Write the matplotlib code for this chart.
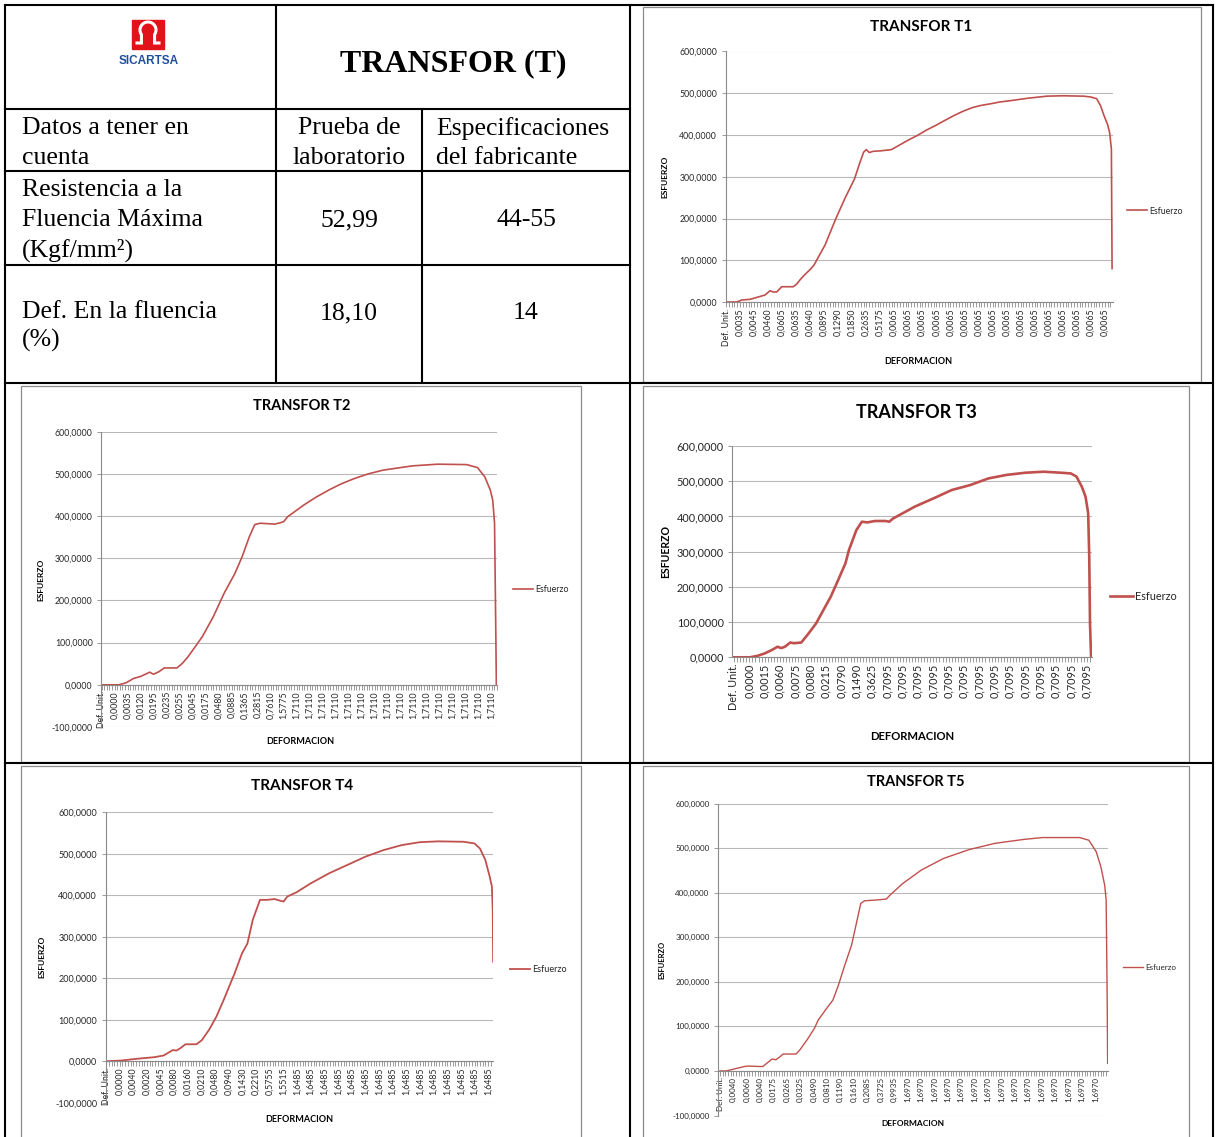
import numpy as np
import matplotlib
matplotlib.use("Agg")
import matplotlib.pyplot as plt
from matplotlib.patches import Rectangle
from matplotlib.ticker import MultipleLocator, FixedLocator, FixedFormatter, FuncFormatter

W, H = 1216, 1137
RED = "#C0504D"
GRID = "#b8b8b8"
AXIS = "#8a8a8a"
TXT = "#262626"
SERIF = ["Liberation Serif", "DejaVu Serif"]
plt.rcParams["font.family"] = ["Lato", "DejaVu Sans"]

# ---- table ----
header = "TRANSFOR (T)"
logo_text = "SICARTSA"
row_names = [["Datos a tener en", "cuenta"],
             ["Resistencia a la", "Fluencia Máxima", "(Kgf/mm²)"],
             ["Def. En la fluencia", "(%)"]]
col_heads = [["Prueba de", "laboratorio"], ["Especificaciones", "del fabricante"]]
lab_values = ["52,99", "18,10"]
spec_values = ["44-55", "14"]

# ---- curves (x = position along the category axis, in label slots) ----
t1_labels = (["Def. Unit.", "0,0035", "0,0045", "0,0460", "0,0605", "0,0635", "0,0640",
              "0,0895", "0,1290", "0,1850", "0,2635", "0,5175"] + ["0,0065"] * 16)
t1_x = [0, 0.76, 1.12, 1.71, 2.19, 2.78, 3.13, 3.37, 3.61, 3.97, 4.80, 5.04, 5.27, 5.6, 6.0,
        6.26, 7.05, 7.83, 8.5, 9.16, 9.5, 9.81, 10.0, 10.21, 10.5, 11.0, 11.79, 12.32, 13.0,
        13.64, 14.3, 14.95, 15.6, 16.27, 16.9, 17.59, 18.2, 18.9, 19.5, 20.23, 21.5, 22.86,
        24.0, 25.5, 26.0, 26.42, 26.7, 26.94, 27.2, 27.34, 27.47, 27.52]
t1_y = [0, 0, 4.8, 6.4, 11, 16.7, 27, 24, 24, 36.6, 36.6, 43, 53, 65, 78,
        88, 136, 200, 250, 295, 330, 359, 365, 358, 361, 362, 365, 375, 388,
        399, 412, 423, 435, 447, 457, 466, 471, 475, 479, 482, 488, 493,
        494, 493, 491, 487, 470, 447, 425, 407, 367, 80]

t2_labels = (["Def. Unit.", "0,0000", "0,0035", "0,0120", "0,0195", "0,0235", "0,0255",
              "0,0045", "0,0175", "0,0480", "0,0885", "0,1365", "0,2815", "0,7610",
              "1,5775"] + ["1,7110"] * 16)
t2_x = [0, 1.34, 1.89, 2.45, 3.01, 3.57, 3.70, 3.98, 4.40, 4.82, 5.79, 6.21, 6.63, 7.19,
        7.74, 8.58, 9.42, 10.25, 10.81, 11.36, 11.78, 12.2, 13.31, 13.73, 14.01, 14.29,
        15.54, 16.5, 17.49, 18.4, 19.44, 20.5, 21.67, 23.9, 25.85, 28.08, 28.91, 29.47,
        29.89, 30.08, 30.22, 30.31, 30.36]
t2_y = [0, 0, 5, 15, 20, 28, 30, 25, 31, 40, 40, 51, 66, 90,
        114, 161, 217, 264, 304, 351, 380, 383, 381, 384, 387, 398,
        426, 445, 462, 476, 489, 500, 509, 519, 523, 522, 515, 493,
        462, 438, 383, 145, 0]

t3_labels = (["Def. Unit.", "0,0000", "0,0015", "0,0060", "0,0075", "0,0080", "0,0215",
              "0,0790", "0,1490", "0,3625"] + ["0,7095"] * 14)
t3_x = [0, 1.04, 1.52, 2.0, 2.48, 2.84, 3.08, 3.32, 3.67, 3.91, 4.39, 4.87, 5.35, 5.83,
        6.31, 6.79, 7.27, 7.5, 7.74, 7.98, 8.34, 8.7, 9.18, 9.9, 10.13, 10.37, 11.8, 13.0,
        14.2, 15.4, 16.6, 17.79, 18.98, 20.18, 21.38, 21.98, 22.34, 22.69, 22.93, 23.1,
        23.17, 23.22, 23.29]
t3_y = [0, 0, 4, 11, 21, 30, 26, 30, 42, 40, 42, 68, 96, 134,
        172, 219, 267, 305, 333, 361, 385, 383, 387, 387, 385, 394, 428, 451,
        475, 489, 508, 518, 524, 527, 524, 522, 513, 484, 456, 409,
        286, 96, 2]

t4_labels = (["Def. Unit.", "0,0000", "0,0040", "0,0020", "0,0045", "0,0080", "0,0160",
              "0,0210", "0,0480", "0,0940", "0,1430", "0,2210", "0,5755", "1,5515"]
             + ["1,6485"] * 15)
t4_x = [0, 1.16, 2.23, 3.56, 4.22, 4.89, 5.16, 5.42, 5.82, 6.62, 7.02, 7.55, 8.09, 8.62,
        9.42, 9.96, 10.36, 10.75, 11.28, 11.81, 12.35, 12.75, 13.01, 13.28, 13.94, 15.01,
        16.34, 17.67, 19.0, 20.34, 21.67, 23.0, 24.33, 26.19, 26.99, 27.39, 27.79, 28.11,
        28.27, 28.33, 28.36]
t4_y = [0, 2, 6, 10, 14, 27, 26, 31, 41, 41, 51, 76, 108, 148,
        212, 260, 284, 341, 389, 389, 391, 387, 385, 397, 407, 429,
        453, 473, 493, 509, 521, 528, 530, 529, 525, 513, 485, 445,
        421, 365, 240]

t5_labels = (["Def. Unit.", "0,0040", "0,0060", "0,0040", "0,0175", "0,0265", "0,0325",
              "0,0490", "0,0810", "0,1190", "0,1610", "0,2085", "0,3725", "0,9935"]
             + ["1,6970"] * 15)
t5_x = [0, 0.46, 1.0, 1.83, 2.1, 2.93, 3.2, 3.48, 3.89, 4.16, 4.44, 4.71, 5.67, 5.95,
        6.5, 7.05, 7.32, 7.87, 8.42, 8.84, 9.27, 9.82, 10.23, 10.5, 10.78, 11.74, 12.41,
        12.69, 13.64, 15.02, 16.67, 18.59, 20.51, 22.71, 24.08, 26.83, 27.52, 28.07, 28.42,
        28.7, 28.81, 28.89, 28.92]
t5_y = [0, 0, 4, 10, 11, 10, 10, 17, 27, 25, 31, 38, 38, 47,
        70, 96, 114, 137, 159, 193, 234, 283, 339, 376, 382, 384, 386,
        395, 421, 451, 477, 497, 511, 520, 524, 524, 518, 492, 458,
        417, 384, 152, 17]

fig = plt.figure(figsize=(W / 100, H / 100), dpi=100)
bg = fig.add_axes([0, 0, 1, 1])
bg.set_xlim(0, W)
bg.set_ylim(H, 0)
bg.axis("off")


def line(x0, y0, x1, y1, color="black", lw=1.5):
    bg.plot([x0, x1], [y0, y1], color=color, lw=lw, solid_capstyle="projecting")


# table grid
for y, x1 in [(5, 1213), (109, 630), (171, 630), (265, 630), (383, 1213), (763, 1213)]:
    line(5, y, x1, y)
for x, y0, y1 in [(5, 5, H), (630, 5, H), (1213, 5, H), (276, 5, 383), (422, 109, 383)]:
    line(x, y0, x, y1)

# logo
bg.add_patch(Rectangle((132, 20), 32, 29, color="#e2121b", zorder=3))
th = np.linspace(np.radians(215), np.radians(-35), 40)
cx, cy, r = 148, 30, 8
ox = cx + r * np.cos(th)
oy = cy - r * np.sin(th)
px = np.r_[137, ox[0], ox, ox[-1], 159]
py = np.r_[43, 43, oy, 43, 43]
bg.plot(px, py, color="white", lw=2.2, zorder=4, solid_joinstyle="miter")
bg.text(148.5, 61.5, logo_text, ha="center", va="center", fontsize=8.5, fontweight="bold",
        color="#1f4e9c", family=["Liberation Sans", "DejaVu Sans"])

bg.text(453, 71, header, ha="center", va="baseline", fontsize=23, fontweight="bold", family=SERIF)
fs_tab = 18.5
for s, yb in zip(row_names[0], [134.5, 164]):
    bg.text(22, yb, s, ha="left", va="baseline", fontsize=fs_tab, family=SERIF)
for s, yb in zip(row_names[1], [196.5, 226.5, 256.5]):
    bg.text(22, yb, s, ha="left", va="baseline", fontsize=fs_tab, family=SERIF)
for s, yb in zip(row_names[2], [318.5, 347]):
    bg.text(22, yb, s, ha="left", va="baseline", fontsize=fs_tab, family=SERIF)
for s, yb in zip(col_heads[0], [134.5, 164]):
    bg.text(349, yb, s, ha="center", va="baseline", fontsize=fs_tab, family=SERIF)
for s, yb in zip(col_heads[1], [134.5, 164]):
    bg.text(436, yb, s, ha="left", va="baseline", fontsize=fs_tab, family=SERIF)
for s, yb in zip(lab_values, [226.5, 319]):
    bg.text(349, yb, s, ha="center", va="baseline", fontsize=fs_tab, family=SERIF)
for s, yb in zip(spec_values, [226.5, 319]):
    bg.text(526, yb, s, ha="center", va="baseline", fontsize=fs_tab, family=SERIF)


def fmt(v, pos):
    return f"{v:.4f}".replace(".", ",")


def chart(x, y, labels, title, st):
    fx0, fy0, fx1, fy1 = st["frame"]
    bg.add_patch(Rectangle((fx0, fy0), fx1 - fx0, fy1 - fy0, fill=False, ec="#8c8c8c", lw=0.9))
    x0, x1, yt, yb = st["plot"]
    ax = fig.add_axes([x0 / W, 1 - yb / H, (x1 - x0) / W, (yb - yt) / H])
    ax.set_facecolor("none")
    ax.plot(x, y, color=RED, lw=st["lw"], label="Esfuerzo", solid_joinstyle="round")
    ax.set_xlim(*st["xlim"])
    ax.set_ylim(st["ymin"], 600)
    ax.yaxis.set_major_locator(MultipleLocator(100))
    ax.yaxis.set_major_formatter(FuncFormatter(fmt))
    ax.xaxis.set_major_locator(FixedLocator(range(len(labels))))
    ax.xaxis.set_major_formatter(FixedFormatter(labels))
    ax.xaxis.set_minor_locator(MultipleLocator(0.2))
    ax.grid(axis="y", color=GRID, lw=0.8)
    ax.set_axisbelow(True)
    for s in ["top", "right"]:
        ax.spines[s].set_visible(False)
    ax.spines["left"].set_color(AXIS)
    ax.spines["left"].set_linewidth(0.8)
    ax.spines["bottom"].set_position(("data", 0))
    ax.spines["bottom"].set_color(AXIS)
    ax.spines["bottom"].set_linewidth(0.8)
    fs = st["fs"]
    ax.tick_params(axis="x", which="both", direction="out", length=3.5, width=0.6,
                   color=AXIS, labelsize=st["xfs"], labelcolor=TXT, pad=1, labelrotation=90)
    ax.tick_params(axis="y", length=3, width=0.6, color=AXIS, labelsize=fs,
                   labelcolor=TXT, pad=3)
    tx, ty = st["title"]
    bg.text(tx, ty, title, ha="center", va="center", fontsize=st["tfs"], fontweight="bold", color="black")
    lx, ly = st["ylab"]
    bg.text(lx, ly, "ESFUERZO", rotation=90, ha="center", va="center", fontsize=st["afs"],
            fontweight="bold", color="black")
    dx, dy = st["xlab"]
    bg.text(dx, dy, "DEFORMACION", ha="center", va="center", fontsize=st["afs"] + 0.5,
            fontweight="bold", color="black")
    gx, gy = st["leg"]
    lfs = st["lfs"]
    pxpt = lfs * 100 / 72
    ax.legend(loc="center left", bbox_to_anchor=(gx, gy), bbox_transform=bg.transData,
              frameon=False, fontsize=lfs, borderpad=0, borderaxespad=0,
              handlelength=st["hl"] / pxpt, handletextpad=2.5 / pxpt, labelcolor=TXT)
    return ax


chart(t1_x, t1_y, t1_labels, "TRANSFOR T1",
      dict(frame=(643, 7, 1201, 382), plot=(725.5, 1112.5, 51.5, 302), xlim=(-0.04, 27.55),
           ymin=0, lw=1.2, fs=6.3, xfs=6.3, tfs=11, afs=6, lfs=6.3, hl=20,
           title=(921, 27), ylab=(665, 177), xlab=(918, 362), leg=(1127, 211)))
chart(t2_x, t2_y, t2_labels, "TRANSFOR T2",
      dict(frame=(21, 386, 581, 762), plot=(101, 497.4, 431.7, 727), xlim=(-0.05, 30.44),
           ymin=-100, lw=1.2, fs=6.3, xfs=6.3, tfs=10.5, afs=6, lfs=6.3, hl=20,
           title=(302, 406), ylab=(41, 580), xlab=(300, 742), leg=(513, 590)))
chart(t3_x, t3_y, t3_labels, "TRANSFOR T3",
      dict(frame=(643, 386, 1189, 762), plot=(732, 1092, 446, 657.3), xlim=(-0.13, 23.35),
           ymin=0, lw=1.9, fs=7.8, xfs=7.8, tfs=13, afs=7.6, lfs=7.8, hl=23,
           title=(916, 413), ylab=(666, 551), xlab=(912, 736), leg=(1110, 596)))
chart(t4_x, t4_y, t4_labels, "TRANSFOR T4",
      dict(frame=(21, 766, 581, 1140), plot=(105.5, 493.4, 812.3, 1102.8), xlim=(-0.04, 28.38),
           ymin=-100, lw=1.3, fs=6.5, xfs=6.3, tfs=11, afs=6, lfs=6.5, hl=20,
           title=(302, 786), ylab=(42, 957), xlab=(299, 1120), leg=(510, 970)))
chart(t5_x, t5_y, t5_labels, "TRANSFOR T5",
      dict(frame=(643, 766, 1189, 1140), plot=(718, 1108.3, 803.7, 1115.5), xlim=(-0.15, 28.97),
           ymin=-100, lw=1.0, fs=5.8, xfs=5.8, tfs=10.5, afs=5.5, lfs=5.8, hl=20,
           title=(916, 782), ylab=(662, 960), xlab=(913, 1123), leg=(1123, 967)))

fig.savefig("out.png", dpi=100)
